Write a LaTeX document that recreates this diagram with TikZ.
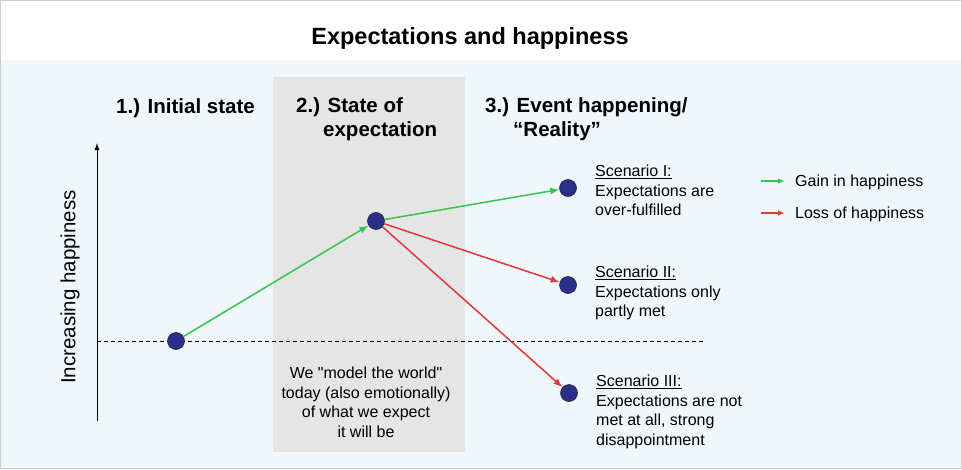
\documentclass[tikz,border=0pt]{standalone}
\usepackage{fontspec}
\setmainfont{Liberation Sans}
\usetikzlibrary{arrows.meta}
\definecolor{bgblue}{RGB}{239,247,250}
\definecolor{colgray}{RGB}{229,229,229}
\definecolor{dotblue}{RGB}{44,46,140}
\definecolor{gaingreen}{RGB}{54,196,80}
\definecolor{lossred}{RGB}{222,58,58}
\begin{document}
\begin{tikzpicture}[x=1pt, y=-1pt,
    dot/.style={circle, fill=dotblue, draw=black!85, line width=0.6pt, minimum size=17pt, inner sep=0pt},
    gain/.style={draw=gaingreen, line width=1.5pt, -{Latex[length=9pt,width=7pt]}},
    loss/.style={draw=lossred, line width=1.5pt, -{Latex[length=9pt,width=7pt]}},
    phase/.style={font=\fontsize{20.5}{24}\selectfont\bfseries, align=left, anchor=north west, inner sep=0pt},
    note/.style={font=\fontsize{16}{19.5}\selectfont, align=left, anchor=north west, inner sep=0pt}]
    \useasboundingbox (0,0) rectangle (962,469);
    % background and expectation column
    \fill[white] (0,0) rectangle (962,60);
    \fill[bgblue] (0,60) rectangle (962,469);
    \draw[black!20] (0.5,0.5) rectangle (961.5,468.5);
    \fill[colgray] (273,77) rectangle (465,452);
    \node[font=\fontsize{23.5}{27}\selectfont\bfseries, anchor=base] (title) at (470,44) {Expectations and happiness};

    % phases
    \node[phase] (ph1) at (116,98) {1.) Initial state};
    \node[phase] (ph2) at (296,97) {2.) State of\\\hspace*{27pt}expectation};
    \node[phase] (ph3) at (485,97) {3.) Event happening/\\\hspace*{28pt}``Reality''};

    % axis
    \coordinate (ybot) at (97,421);
    \coordinate (ytop) at (97,143);
    \draw[line width=0.9pt, -{Latex[length=7pt,width=5pt]}] (ybot) -- (ytop);
    \node[font=\fontsize{20.5}{24}\selectfont, rotate=90] (ylab) at (70,287) {Increasing happiness};
    \coordinate (base0) at (97,341);
    \coordinate (base1) at (705,341);
    \draw[dash pattern=on 4pt off 3pt, line width=0.7pt] (base0) -- (base1);

    % states
    \node[dot] (init) at (176,341) {};
    \node[dot] (expect) at (376,221) {};
    \node[dot] (sc1) at (568,188) {};
    \node[dot] (sc2) at (568,285) {};
    \node[dot] (sc3) at (569,393) {};
    \draw[gain] (init) -- (expect);
    \draw[gain] (expect) -- (sc1);
    \draw[loss] (expect) -- (sc2);
    \draw[loss] (expect) -- (sc3);

    % scenario notes
    \node[note] (t1) at (595,165) {\underline{Scenario I:}\\Expectations are\\over-fulfilled};
    \node[note] (t2) at (595,266) {\underline{Scenario II:}\\Expectations only\\partly met};
    \node[note] (t3) at (596,375) {\underline{Scenario III:}\\Expectations are not\\met at all, strong\\disappointment};
    \node[note, align=center, anchor=north] (model) at (366,367) {We \textquotedbl model the world\textquotedbl\\today (also emotionally)\\of what we expect\\it will be};

    % legend
    \coordinate (lg0) at (761,181);
    \coordinate (lg1) at (785,181);
    \coordinate (ll0) at (761,213);
    \coordinate (ll1) at (785,213);
    \draw[gain, line width=1.3pt, -{Latex[length=7pt,width=5.5pt]}] (lg0) -- (lg1);
    \draw[loss, line width=1.3pt, -{Latex[length=7pt,width=5.5pt]}] (ll0) -- (ll1);
    \node[note, anchor=west] (lgain) at (795,182) {Gain in happiness};
    \node[note, anchor=west] (lloss) at (795,214) {Loss of happiness};
\end{tikzpicture}
\end{document}
